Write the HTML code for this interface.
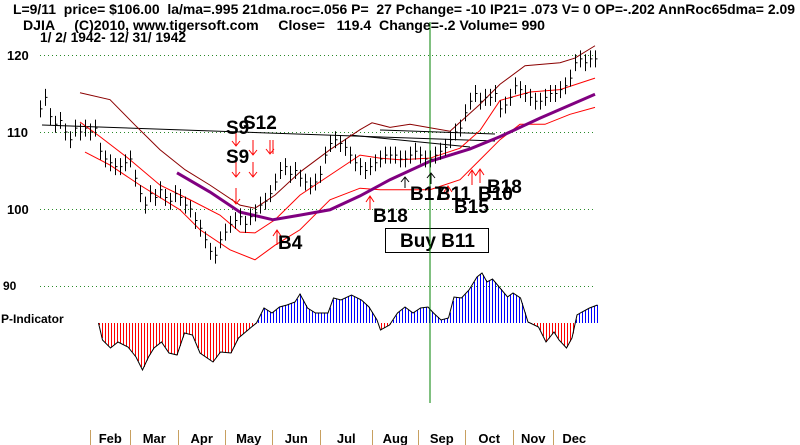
<!DOCTYPE html>
<html><head><meta charset="utf-8"><style>
html,body{margin:0;padding:0;background:#fff;}
svg{display:block;font-family:"Liberation Sans",Arial,sans-serif;}
</style></head><body>
<svg id="chart" width="800" height="445" viewBox="0 0 800 445">
<g font-weight="bold" font-size="14" fill="#000">
<text x="13" y="14" textLength="782" lengthAdjust="spacingAndGlyphs" xml:space="preserve">L=9/11  price= $106.00  la/ma=.995 21dma.roc=.056 P=  27 Pchange= -10 IP21= .073 V= 0 OP=-.202 AnnRoc65dma= 2.09</text>
<text x="23" y="30" textLength="522" lengthAdjust="spacingAndGlyphs" xml:space="preserve">DJIA     (C)2010, www.tigersoft.com     Close=   119.4  Change=-.2 Volume= 990</text>
<text x="40" y="42" textLength="146" lengthAdjust="spacingAndGlyphs">1/ 2/ 1942- 12/ 31/ 1942</text>
</g>
<g id="grid"></g>
<g id="ylabels" font-weight="bold" font-size="13">
<text x="7" y="60">120</text>
<text x="7" y="137">110</text>
<text x="7" y="214">100</text>
<text x="3" y="290" font-size="12">90</text>
<text x="1" y="323" font-size="12">P-Indicator</text>
</g>
<g id="trend">
<line x1="42" y1="125" x2="495" y2="141" stroke="#000" stroke-width="1"/>
<line x1="350" y1="135" x2="470" y2="147" stroke="#000" stroke-width="1"/>
<line x1="380" y1="130" x2="495" y2="134" stroke="#000" stroke-width="1"/>
</g>
<g id="bands"></g>
<g id="bars"></g>
<g id="pind" shape-rendering="crispEdges"></g>
<line x1="430" y1="22" x2="430" y2="403" stroke="#008000" stroke-width="1"/>
<g stroke-width="1" fill="none">
<path d="M236 130V146M232 141L236 146L240 141M236 162V177M232 172L236 177L240 172M236 188V204M232 199L236 204L240 199M253 140V155M249 150L253 155L257 150M253 162V177M249 172L253 177L257 172M270 140V154M266 149L270 154L274 149M273 140V154" stroke="#f00"/>
<path d="M277 245V230M273 236L277 230L281 236M370 210V196M366 202L370 196L374 202M448 200V186M444 192L448 186L452 192M472 185V170M468 176L472 170L476 176M480 183V169M476 175L480 169L484 175" stroke="#f00"/>
<path d="M405 188V177M401 182L405 177L409 182M431 184V173M427 178L431 173L435 178" stroke="#000"/>
</g>
<g font-weight="bold" font-size="19" fill="#000">
<text x="226" y="134">S9</text>
<text x="243" y="129">S12</text>
<text x="226" y="163">S9</text>
<text x="278" y="249">B4</text>
<text x="373" y="222">B18</text>
<text x="410" y="200">B17</text>
<text x="437" y="200">B11</text>
<text x="478" y="200">B10</text>
<text x="487" y="193">B18</text>
<text x="454" y="213">B15</text>
</g>
<g>
<rect x="385.5" y="228.5" width="103" height="24" fill="#fff" stroke="#000"/>
<text x="400" y="247" font-weight="bold" font-size="19">Buy B11</text>
</g>
<line x1="430" y1="228" x2="430" y2="253" stroke="#008000"/>
<g id="months" font-weight="bold" font-size="13"></g>
</svg>
<script>
var closes=[113,114.5,112,111,111.5,110,109,110.5,110,110.5,110,110.5,107.5,106.5,106,105.5,105.5,106,106.5,104,102,100.5,102,101.5,102.5,101.5,101,102,101.5,100.5,100,98.5,97.5,96,94.5,94,96,97,98,98.5,99,98,99,99.5,100.5,101,102,103.5,105,105.5,104.5,105,104,103.5,103,103.5,104.5,107,108.5,109,108.5,108,107,106,105.5,105,105.5,106,106.5,107,107,107,106.5,106.5,107,107.5,107,106.5,106.5,107,107.5,108,109,110,110.5,112.5,114,115,114,114.5,114.5,115,113,113.5,114.5,116,115.5,115,114.5,114,114,114.5,115,115,115.5,116,117,119,119.5,119,119.5,119.5];
var outerDays=[8,14,19,24,29,34,40,43,47,52,58,64,66.4,70,74,82,88,92,97,104,107,111];
var outerVals=[115.1,114.2,110.9,107.7,105.1,103.1,100.5,100.1,101.8,104.8,107.7,110.3,111.2,110.6,111,110.1,113.6,116.2,118.6,119,119.6,121.2];
var upperDays=[8,12,18,24,30,36,40,43,47,52,58,64,68,72,78,84,88,92,98,104,111];
var upperVals=[111.3,109.4,106.4,103.1,101.2,99.2,97,96.9,98.6,101.8,104.4,107,106.6,106.4,106.6,107.9,110.2,114.1,115.2,115.5,117];
var lowerDays=[9,14,20,28,32,38,43,47,52,58,64,68,72,78,84,88,92,96,101,106,111];
var lowerVals=[107.4,105.7,103.1,99.9,97.3,94.7,93.4,95.3,97.3,101.2,102.7,102.5,102.5,102.5,103.8,106.4,109,111,111,112.3,113.2];
var maDays=[27.4,34,40,46.6,52,58,64,70,78,86,92,100,111];
var maVals=[104.7,102.2,99.6,98.6,99.2,99.9,101.7,103.8,106.2,107.8,109.4,111.8,114.9];
var pDays=[11.7,12.5,14.1,15.6,17.6,19.2,20.5,21.7,22.8,24.3,25.8,27.4,28.9,30.5,32,34.6,36.1,38.2,39.7,42.3,43.3,44.8,46.4,47.9,49.4,51,52,53.5,55.1,57.6,58.7,60.2,62.3,64.3,65.8,67.4,68.1,69.9,71.5,73,74.6,76.1,77.6,78.7,80.2,81.7,82.8,84.3,85.8,87.4,88.4,89.4,90.5,92,93.5,94.6,96.1,97.6,99.7,101.2,102.8,103.8,105.3,106.4,107.4,108.4,109.9,111.5];
var pVals=[0,-17,-25,-19,-24,-34,-47,-34,-25,-19,-30,-32,-10,-12,-30,-39,-29,-30,-15,-4,0,15,10,16,18,21,29,15,10,10,25,23,28,23,16,3,-7,-2,10,16,10,15,16,10,3,5,26,25,33,46,50,41,44,35,26,30,25,1,-4,-19,-9,-17,-25,-15,8,11,15,18];
var months=["Feb","Mar","Apr","May","Jun","Jul","Aug","Sep","Oct","Nov","Dec"];
var monthStartDays=[10,18,27.6,37,46.4,56,66.4,75.6,85,94.6,102.6];
var gridPrices=[120,110,100,90];

var NS="http://www.w3.org/2000/svg";
function xS(d){return 40+d*5;}
function yS(p){return 209-(p-100)*7.7;}
function yP(v){return 323-v;}
function mk(tag,attrs,parent){var e=document.createElementNS(NS,tag);for(var k in attrs)e.setAttribute(k,attrs[k]);parent.appendChild(e);return e;}

var grid=document.getElementById('grid');
gridPrices.forEach(function(p){
  var l=mk('line',{x1:40,x2:595,y1:yS(p)+0.5,y2:yS(p)+0.5,stroke:'#2a8a2a','stroke-dasharray':'1 3'},grid);
  
  
});

function poly(days,vals,col,w,name){
  var pts=days.map(function(d,i){return xS(d)+','+yS(vals[i]);}).join(' ');
  var e=mk('polyline',{points:pts,fill:'none',stroke:col,'stroke-width':w},document.getElementById('bands'));
  
  
}
poly(outerDays,outerVals,'#8b0000',1,'outer-upper-band');
poly(upperDays,upperVals,'#ff0000',1,'upper-band');
poly(lowerDays,lowerVals,'#ff0000',1,'lower-band');
poly(maDays,maVals,'#800080',3,'moving-average');

var bars=document.getElementById('bars');
closes.forEach(function(c,i){
  var x=Math.round(xS(i))+0.5;
  var g=mk('path',{d:'M'+x+' '+yS(c+1.1)+'V'+yS(c-1.1)+'M'+x+' '+yS(c)+'H'+(x+2),stroke:'#000','stroke-width':1,fill:'none'},bars);
  
  
});

var pg=document.getElementById('pind');
function pAt(x){
  var d=(x-40)/5;
  if(d<=pDays[0])return pVals[0];
  for(var i=1;i<pDays.length;i++){if(d<=pDays[i]){var t=(d-pDays[i-1])/(pDays[i]-pDays[i-1]);return pVals[i-1]+t*(pVals[i]-pVals[i-1]);}}
  return pVals[pVals.length-1];
}
for(var x=Math.round(xS(pDays[0]));x<=xS(pDays[pDays.length-1]);x+=3){
  var v=pAt(x);
  var h=mk('line',{x1:x+0.5,x2:x+0.5,y1:323,y2:yP(v),stroke:v>=0?'#0000ff':'#ff0000','stroke-width':1},pg);
  
  
}
var ppts=pDays.map(function(d,i){return xS(d)+','+yP(pVals[i]);}).join(' ');
var pl=mk('polyline',{points:ppts,fill:'none',stroke:'#000','stroke-width':1,'shape-rendering':'auto'},pg);



var mg=document.getElementById('months');
monthStartDays.forEach(function(d,i){
  var x=Math.round(xS(d))+0.5;
  var t=mk('line',{x1:x,x2:x,y1:430,y2:445,stroke:'#c8a060'},mg);
  
  
  var nx=i<monthStartDays.length-1?xS(monthStartDays[i+1]):595;
  var tx=mk('text',{x:(x+nx)/2,y:443,'text-anchor':'middle'},mg);
  tx.textContent=months[i];
  
  
});
</script>
</body></html>
